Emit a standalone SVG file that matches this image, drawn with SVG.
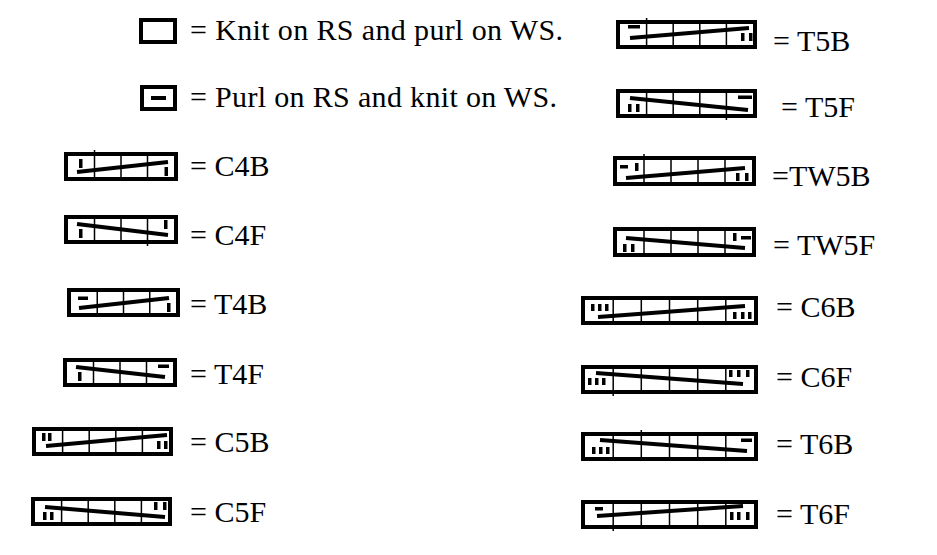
<svg xmlns="http://www.w3.org/2000/svg" width="937" height="555" viewBox="0 0 937 555">
<style>
.bg{fill:#fff}
.box{fill:#fff;stroke:#000;stroke-width:4}
.dv{stroke:#000;stroke-width:1.5}
.ln{stroke:#000;stroke-width:4}
.m{fill:#000}
.t{font-family:"Liberation Serif","Times New Roman",serif;font-size:30px;fill:#000}
</style>
<rect class="bg" x="0" y="0" width="937" height="555"/>

<g id="knit">
<rect class="box" x="141" y="20" width="34" height="22"/>
<text class="t" x="190" y="40" textLength="373" lengthAdjust="spacing">= Knit on RS and purl on WS.</text>
</g>

<g id="purl">
<rect class="box" x="142" y="87" width="33" height="22"/>
<rect class="m" x="151" y="96" width="15" height="4"/>
<text class="t" x="190" y="107" textLength="367" lengthAdjust="spacing">= Purl on RS and knit on WS.</text>
</g>

<g id="C4B">
<g transform="translate(64,152)">
<rect class="box" x="2" y="2" width="110" height="25"/>
<path class="dv" d="M30.5,-2V25M57,4V25M83.5,4V25"/>
<line class="ln" x1="13" y1="20" x2="104" y2="10"/>
<rect class="m" x="15" y="7" width="3.5" height="9"/>
<rect class="m" x="100.5" y="15" width="3.5" height="9"/>
</g>
<text class="t" x="190" y="176">= C4B</text>
</g>

<g id="C4F">
<g transform="translate(64,215)">
<rect class="box" x="2" y="2" width="110" height="25"/>
<path class="dv" d="M30.5,4V25M57,4V25M83.5,4V31"/>
<line class="ln" x1="13" y1="9" x2="104" y2="20"/>
<rect class="m" x="15" y="14" width="3.5" height="9"/>
<rect class="m" x="100" y="5" width="3.5" height="9"/>
</g>
<text class="t" x="190" y="245">= C4F</text>
</g>

<g id="T4B">
<g transform="translate(67,288)">
<rect class="box" x="2" y="2" width="109" height="25"/>
<path class="dv" d="M30.25,4V25M56.5,4V25M82.75,4V25"/>
<rect class="m" x="11" y="8.5" width="10" height="3.5"/>
<line class="ln" x1="12" y1="20" x2="102" y2="10"/>
<rect class="m" x="100" y="15" width="3.5" height="9"/>
</g>
<text class="t" x="190" y="314">= T4B</text>
</g>

<g id="T4F">
<g transform="translate(63,358)">
<rect class="box" x="2" y="2" width="110" height="25"/>
<path class="dv" d="M30.5,4V25M57,4V25M83.5,4V25"/>
<rect class="m" x="15" y="14" width="3.5" height="9"/>
<line class="ln" x1="13" y1="9" x2="102" y2="19"/>
<rect class="m" x="95" y="6.5" width="11" height="3.5"/>
</g>
<text class="t" x="190" y="384">= T4F</text>
</g>

<g id="C5B">
<g transform="translate(32,427)">
<rect class="box" x="2" y="2" width="137" height="25"/>
<path class="dv" d="M30.6,4V25M57.2,4V25M83.8,4V25M110.4,4V25"/>
<rect class="m" x="10" y="6" width="3.5" height="8"/>
<rect class="m" x="16" y="6" width="3.5" height="8"/>
<line class="ln" x1="14" y1="19" x2="135" y2="8"/>
<rect class="m" x="125" y="14" width="3.5" height="8"/>
<rect class="m" x="132" y="14" width="3.5" height="8"/>
</g>
<text class="t" x="190" y="452">= C5B</text>
</g>

<g id="C5F">
<g transform="translate(31,497)">
<rect class="box" x="2" y="2" width="137" height="25"/>
<path class="dv" d="M30.6,4V25M57.2,4V25M83.8,4V25M110.4,4V25"/>
<line class="ln" x1="14" y1="10" x2="134" y2="20"/>
<rect class="m" x="12" y="15" width="3.5" height="8"/>
<rect class="m" x="19" y="15" width="3.5" height="8"/>
<rect class="m" x="123" y="5" width="3.5" height="8"/>
<rect class="m" x="132" y="5" width="3.5" height="8"/>
</g>
<text class="t" x="190" y="522">= C5F</text>
</g>

<g id="T5B">
<g transform="translate(616,20)">
<rect class="box" x="2" y="2" width="137" height="25"/>
<path class="dv" d="M30.6,-2V25M57.2,4V25M83.8,4V25M110.4,4V25"/>
<rect class="m" x="12" y="5" width="12" height="3.5"/>
<line class="ln" x1="14" y1="18" x2="133" y2="8"/>
<rect class="m" x="125" y="13" width="3.5" height="8"/>
<rect class="m" x="133" y="13" width="3.5" height="8"/>
</g>
<text class="t" x="773" y="51">= T5B</text>
</g>

<g id="T5F">
<g transform="translate(616,89)">
<rect class="box" x="2" y="2" width="137" height="25"/>
<path class="dv" d="M30.6,4V25M57.2,4V25M83.8,4V25M110.4,4V31"/>
<rect class="m" x="12" y="15" width="3.5" height="8"/>
<rect class="m" x="20" y="15" width="3.5" height="8"/>
<line class="ln" x1="14" y1="9" x2="132" y2="21"/>
<rect class="m" x="122" y="6.5" width="14" height="3.5"/>
</g>
<text class="t" x="781" y="117">= T5F</text>
</g>

<g id="TW5B">
<g transform="translate(613,156)">
<rect class="box" x="2" y="2" width="139" height="26"/>
<path class="dv" d="M31,-2V26M58,4V26M85,4V26M112,4V26"/>
<rect class="m" x="7" y="9" width="8" height="3.5"/>
<rect class="m" x="22" y="7" width="3.5" height="8"/>
<line class="ln" x1="13" y1="22" x2="132" y2="12"/>
<rect class="m" x="123" y="17" width="3.5" height="8"/>
<rect class="m" x="132" y="17" width="3.5" height="8"/>
</g>
<text class="t" x="772" y="186">=TW5B</text>
</g>

<g id="TW5F">
<g transform="translate(613,227)">
<rect class="box" x="2" y="2" width="139" height="26"/>
<path class="dv" d="M31,4V26M58,4V26M85,4V26M112,4V26"/>
<rect class="m" x="10" y="17" width="3.5" height="8"/>
<rect class="m" x="18" y="17" width="3.5" height="8"/>
<line class="ln" x1="13" y1="11" x2="132" y2="21"/>
<rect class="m" x="120" y="6" width="3.5" height="8"/>
<rect class="m" x="128" y="9" width="10" height="3.5"/>
</g>
<text class="t" x="773" y="255">= TW5F</text>
</g>

<g id="C6B">
<g transform="translate(581,296)">
<rect class="box" x="2" y="2" width="173" height="25"/>
<path class="dv" d="M32.2,4V25M60.3,4V25M88.5,4V25M116.7,4V25M144.8,4V25"/>
<rect class="m" x="10" y="8" width="3.5" height="7"/>
<rect class="m" x="17" y="8" width="3.5" height="7"/>
<rect class="m" x="24" y="8" width="3.5" height="7"/>
<line class="ln" x1="17" y1="21" x2="164" y2="10"/>
<rect class="m" x="152" y="16" width="3.5" height="7"/>
<rect class="m" x="160" y="16" width="3.5" height="7"/>
<rect class="m" x="167" y="16" width="3.5" height="7"/>
</g>
<text class="t" x="776" y="317">= C6B</text>
</g>

<g id="C6F">
<g transform="translate(581,365)">
<rect class="box" x="2" y="2" width="173" height="25"/>
<path class="dv" d="M32.2,4V31M60.3,4V25M88.5,4V25M116.7,4V25M144.8,4V25"/>
<rect class="m" x="7" y="13" width="3.5" height="7"/>
<rect class="m" x="14" y="13" width="3.5" height="7"/>
<rect class="m" x="21" y="13" width="3.5" height="7"/>
<line class="ln" x1="15" y1="8" x2="162" y2="19"/>
<rect class="m" x="148" y="5" width="3.5" height="7"/>
<rect class="m" x="156" y="5" width="3.5" height="7"/>
<rect class="m" x="165" y="5" width="3.5" height="7"/>
</g>
<text class="t" x="776" y="387">= C6F</text>
</g>

<g id="T6B">
<g transform="translate(581,432)">
<rect class="box" x="2" y="2" width="173" height="25"/>
<path class="dv" d="M32.2,4V25M60.3,-2V25M88.5,4V25M116.7,4V25M144.8,4V25"/>
<rect class="m" x="11" y="15" width="3.5" height="7"/>
<rect class="m" x="18" y="15" width="3.5" height="7"/>
<rect class="m" x="25" y="15" width="3.5" height="7"/>
<line class="ln" x1="19" y1="8" x2="166" y2="19"/>
<rect class="m" x="160" y="6.5" width="11" height="3.5"/>
</g>
<text class="t" x="776" y="454">= T6B</text>
</g>

<g id="T6F">
<g transform="translate(581,500)">
<rect class="box" x="2" y="2" width="173" height="25"/>
<path class="dv" d="M32.2,4V31M60.3,4V25M88.5,4V25M116.7,4V25M144.8,4V25"/>
<rect class="m" x="14" y="7" width="8" height="3.5"/>
<line class="ln" x1="16" y1="16" x2="162" y2="6"/>
<rect class="m" x="149" y="12" width="3.5" height="8"/>
<rect class="m" x="156" y="12" width="3.5" height="8"/>
<rect class="m" x="165" y="12" width="3.5" height="8"/>
</g>
<text class="t" x="776" y="524">= T6F</text>
</g>

<g id="connectors"/>
</svg>
